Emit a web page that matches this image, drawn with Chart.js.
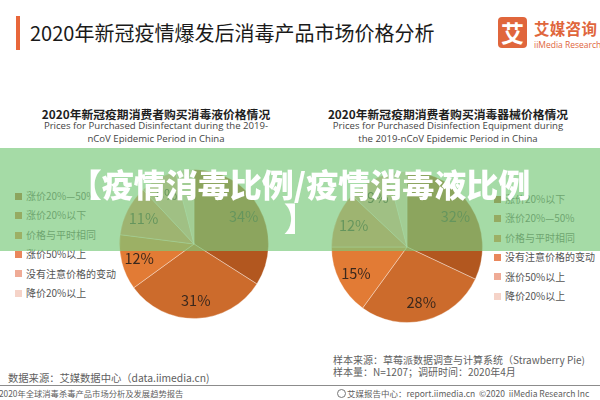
<!DOCTYPE html>
<html><head><meta charset="utf-8">
<script src="https://cdn.jsdelivr.net/npm/chart.js@4/dist/chart.umd.min.js"></script>
<style>
html,body{margin:0;padding:0;background:#fff;}
#wrap{position:relative;width:600px;height:400px;overflow:hidden;background:#fff;font-family:"Noto Sans CJK SC","Noto Sans",sans-serif;}
.abs{position:absolute;white-space:nowrap;}
.sub{position:absolute;text-align:center;white-space:nowrap;transform:translateX(-50%);}
.sub .zh{font-size:11.8px;font-weight:bold;color:#1e1e1e;line-height:13px;height:13px;}
.sub .en{font-family:"Open Sans","Noto Sans",sans-serif;font-size:9.6px;color:#444;line-height:12.8px;}
.legend{position:absolute;font-size:10px;color:#555;}
.legend .row{height:19.4px;line-height:19.4px;position:relative;white-space:nowrap;}
.legend .mk{display:inline-block;width:7px;height:7px;margin-right:4px;vertical-align:middle;position:relative;top:-1px;}
canvas{position:absolute;}
#banner{position:absolute;left:0;top:148px;width:600px;height:103px;background:rgba(123,202,124,0.68);z-index:10;
  color:#fff;font-weight:900;font-size:32px;line-height:34px;text-align:center;box-sizing:border-box;padding-top:18px;}
.foot{color:#606060;}
</style></head>
<body><div id="wrap">
  <div class="abs" style="left:16px;top:16px;width:4px;height:34px;background:#e8673a;"></div>
  <div class="abs" style="left:30px;top:19px;font-size:20px;line-height:28px;color:#1a1a1a;">2020年新冠疫情爆发后消毒产品市场价格分析</div>

  <div class="abs" style="left:498px;top:17px;width:29px;height:31px;background:#e0663c;border-radius:4px;color:#fff;font-weight:bold;font-size:23px;line-height:31px;text-align:center;">艾</div>
  <div class="abs" style="left:534px;top:18px;font-size:15.5px;line-height:20px;font-weight:bold;color:#e0663c;letter-spacing:0.3px;">艾媒咨询</div>
  <div class="abs" style="left:534px;top:39px;font-family:'Open Sans','Noto Sans',sans-serif;font-size:8.5px;line-height:11px;color:#e0663c;">iiMedia Research</div>

  <div class="sub" style="left:156px;top:107px;">
    <div class="zh" id="ltitle"></div>
    <div class="en" id="lsub1"></div>
    <div class="en" id="lsub2"></div>
  </div>
  <div class="sub" style="left:448px;top:107px;">
    <div class="zh" id="rtitle"></div>
    <div class="en" id="rsub1"></div>
    <div class="en" id="rsub2"></div>
  </div>

  <div class="legend" id="lleg" style="left:15px;top:186px;"></div>
  <div class="legend" id="rleg" style="left:494px;top:189px;"></div>

  <canvas id="leftPie" width="150" height="150" style="left:119px;top:169px;"></canvas>
  <canvas id="rightPie" width="152" height="152" style="left:331px;top:171px;"></canvas>

  <div id="banner">【疫情消毒比例/疫情消毒液比例<br>】</div>

  <div class="abs foot" style="left:333px;top:353px;font-size:10px;line-height:13px;">样本来源：草莓派数据调查与计算系统（Strawberry Pie)</div>
  <div class="abs foot" style="left:333px;top:365px;font-size:10px;line-height:13px;">样本量：N=1207；调研时间：2020年4月</div>
  <div class="abs foot" style="left:8px;top:371px;font-size:10.3px;line-height:14px;">数据来源：艾媒数据中心（data.iimedia.cn)</div>
  <div class="abs" style="left:0;top:385px;width:600px;height:1px;background:#8c8c8c;"></div>
  <div class="abs foot" style="left:-1px;top:388px;font-size:8.3px;line-height:11px;">2020年全球消毒杀毒产品市场分析及发展趋势报告</div>
  <div class="abs" style="left:337px;top:389px;width:7px;height:7px;border:1px solid #777;border-radius:50%;"></div>
  <div class="abs foot" style="left:347px;top:388px;font-size:8.5px;line-height:11px;">艾媒报告中心：report.iimedia.cn&nbsp;&nbsp;©2020&nbsp;&nbsp;iiMedia Research Inc</div>
</div>
<script>
// ---- data ----
const leftTitle = '2020年新冠疫期消费者购买消毒液价格情况';
const leftSubtitle = ['Prices for Purchased Disinfectant during the 2019-', 'nCoV Epidemic Period in China'];
const leftLabels = ['涨价20%—50%', '涨价20%以下', '价格与平时相同', '涨价50%以上', '没有注意价格的变动', '降价20%以上'];
const leftValues = [34, 31, 12, 11, 8, 4];

const rightTitle = '2020年新冠疫期消费者购买消毒器械价格情况';
const rightSubtitle = ['Prices for Purchased Disinfection Equipment during', 'the 2019-nCoV Epidemic Period in China'];
const rightLabels = ['涨价20%以下', '涨价20%—50%', '价格与平时相同', '没有注意价格的变动', '涨价50%以上', '降价20%以上'];
const rightValues = [32, 28, 15, 12, 9, 4];

// ---- styles ----
const palette = ['#b2571f', '#cc6b2c', '#e27b35', '#e9875c', '#efab96', '#f5d3c8'];

document.getElementById('ltitle').textContent = leftTitle;
document.getElementById('lsub1').textContent = leftSubtitle[0];
document.getElementById('lsub2').textContent = leftSubtitle[1];
document.getElementById('rtitle').textContent = rightTitle;
document.getElementById('rsub1').textContent = rightSubtitle[0];
document.getElementById('rsub2').textContent = rightSubtitle[1];

function buildLegend(id, labels) {
  const el = document.getElementById(id);
  labels.forEach((t, i) => {
    const row = document.createElement('div');
    row.className = 'row';
    const mk = document.createElement('span');
    mk.className = 'mk';
    mk.style.background = palette[i];
    row.appendChild(mk);
    row.appendChild(document.createTextNode(t));
    el.appendChild(row);
  });
}
buildLegend('lleg', leftLabels);
buildLegend('rleg', rightLabels);

const pctLabels = {
  id: 'pctLabels',
  afterDatasetsDraw(chart) {
    const ctx = chart.ctx;
    const meta = chart.getDatasetMeta(0);
    const vals = chart.data.datasets[0].data;
    ctx.save();
    ctx.font = '14.5px "Noto Sans CJK SC", "Noto Sans", sans-serif';
    ctx.fillStyle = '#3a281d';
    ctx.textAlign = 'center';
    ctx.textBaseline = 'middle';
    meta.data.forEach((arc, i) => {
      if (vals[i] < 5) return;
      const p = arc.getProps(['x', 'y', 'startAngle', 'endAngle', 'outerRadius'], true);
      const a = (p.startAngle + p.endAngle) / 2;
      const r = p.outerRadius * 0.76;
      ctx.fillText(vals[i] + '%', p.x + Math.cos(a) * r, p.y + Math.sin(a) * r);
    });
    ctx.restore();
  }
};

function makePie(id, labels, values) {
  return new Chart(document.getElementById(id), {
    type: 'pie',
    data: {
      labels: labels,
      datasets: [{
        data: values,
        backgroundColor: palette,
        borderColor: 'rgba(255,255,255,0.35)',
        borderWidth: 1
      }]
    },
    options: {
      responsive: false,
      animation: false,
      layout: { padding: 0 },
      plugins: { legend: { display: false }, tooltip: { enabled: false } }
    },
    plugins: [pctLabels]
  });
}
makePie('leftPie', leftLabels, leftValues);
makePie('rightPie', rightLabels, rightValues);
</script>
</body></html>
